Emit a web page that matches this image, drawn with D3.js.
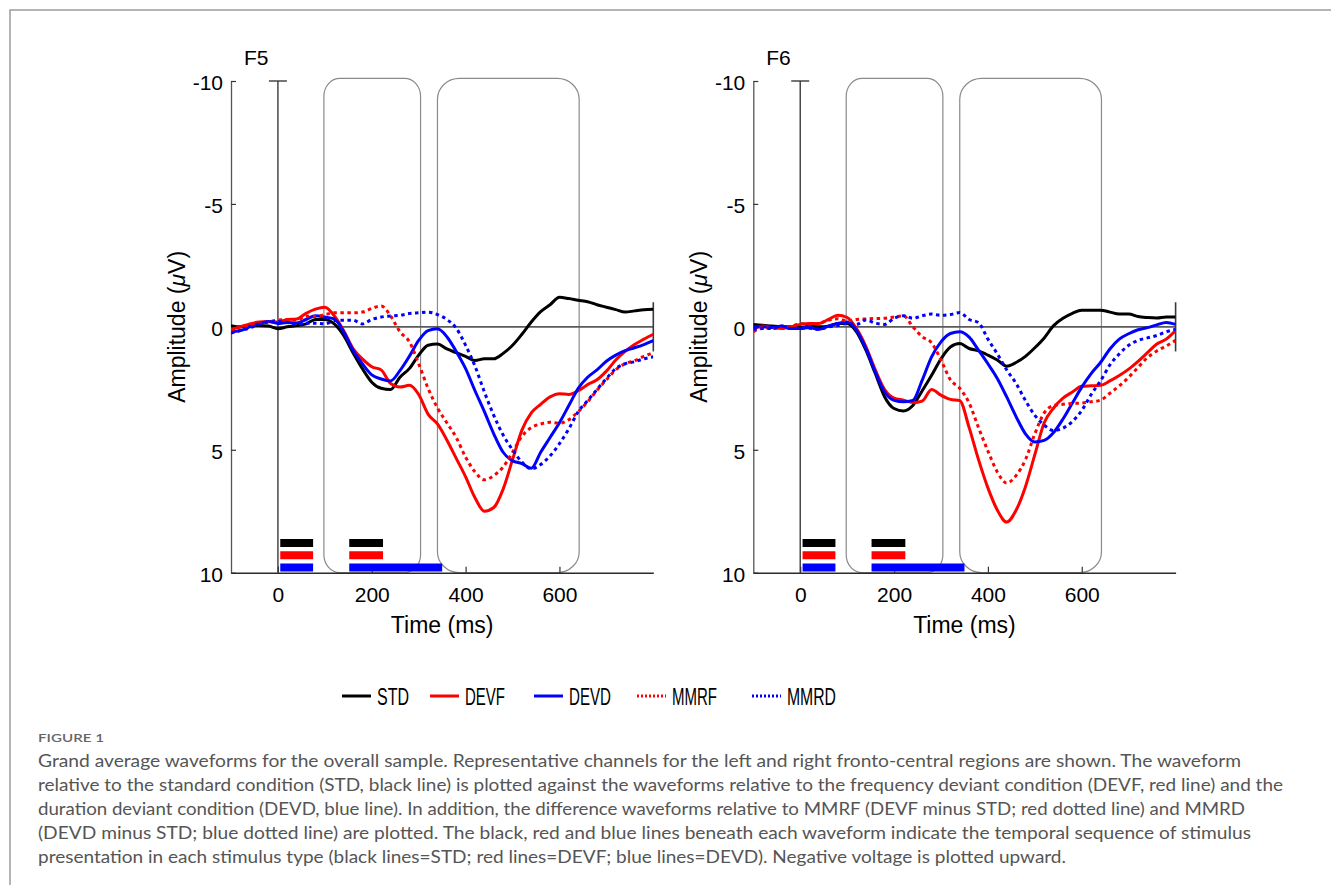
<!DOCTYPE html>
<html>
<head>
<meta charset="utf-8">
<script src="https://cdn.jsdelivr.net/npm/d3@7"></script>
<style>
  body { margin: 0; background: #fff; }
</style>
</head>
<body>
<div id="chart"></div>
<script>
// time base (ms) shared by every waveform
const times = [-100, -80, -60, -40, -20, 0, 20, 40, 60, 80, 100, 120, 140, 160, 180, 200, 220, 240, 260, 280,
  300, 320, 340, 360, 380, 400, 420, 440, 460, 480, 500, 520, 540, 560, 580, 600, 620, 640, 660, 680,
  700, 720, 740, 760, 780, 800]

// F5 (left fronto-central), amplitude in microvolts
const f5Std = [-0.05, 0, -0.05, -0.05, -0.03, 0.08, 0, -0.05, -0.12, -0.3, -0.3, -0.12, 0.35, 1.05, 1.7, 2.25, 2.5, 2.55, 2.05, 1.7,
  1.15, 0.75, 0.7, 0.9, 1.05, 1.2, 1.37, 1.3, 1.3, 1.08, 0.75, 0.3, -0.2, -0.62, -0.9, -1.2, -1.15, -1.08, -1.02, -0.9,
  -0.8, -0.7, -0.6, -0.65, -0.7, -0.72]
const f5Devf = [0.1, 0, -0.12, -0.2, -0.22, -0.2, -0.3, -0.32, -0.55, -0.72, -0.8, -0.45, 0.15, 0.88, 1.3, 1.62, 1.75, 2.3, 2.45, 2.38,
  2.75, 3.55, 3.95, 4.6, 5.35, 6.1, 6.95, 7.5, 7.35, 6.6, 5.4, 4.2, 3.5, 3.15, 2.85, 2.72, 2.75, 2.6, 2.35, 2.15,
  1.8, 1.35, 1.0, 0.72, 0.5, 0.3]
const f5Devd = [0.2, 0.15, 0, -0.14, -0.22, -0.14, -0.18, -0.16, -0.3, -0.45, -0.4, -0.32, 0.2, 0.95, 1.5, 1.95, 2.12, 2.2, 1.78, 1.2,
  0.55, 0.15, 0.08, 0.4, 1.0, 1.7, 2.6, 3.45, 4.35, 5.1, 5.45, 5.56, 5.75, 5.1, 4.5, 3.9, 3.2, 2.5, 2.05, 1.75,
  1.4, 1.15, 0.97, 0.85, 0.72, 0.56]
const f5Mmrf = [0.15, 0, -0.07, -0.15, -0.2, -0.28, -0.3, -0.27, -0.43, -0.42, -0.5, -0.57, -0.57, -0.57, -0.6, -0.75, -0.85, -0.45, 0.2, 0.6,
  1.5, 2.5, 3.3, 3.9, 4.5, 5.3, 5.9, 6.22, 6.05, 5.7, 5.1, 4.45, 4.1, 3.95, 3.88, 3.92, 3.78, 3.45, 3.05, 2.58,
  2.15, 1.75, 1.5, 1.38, 1.2, 1.05]
const f5Mmrd = [0.25, 0.15, 0.05, -0.1, -0.2, -0.22, -0.18, -0.1, -0.15, -0.15, -0.12, -0.25, -0.27, -0.27, -0.12, -0.3, -0.4, -0.44, -0.47, -0.54,
  -0.57, -0.6, -0.5, -0.3, 0.05, 0.75, 1.6, 2.65, 3.6, 4.4, 5.0, 5.5, 5.77, 5.6, 5.25, 4.75, 4.15, 3.45, 3.0, 2.55,
  2.1, 1.7, 1.5, 1.42, 1.3, 1.22]

// F6 (right fronto-central)
const f6Std = [-0.1, -0.07, -0.03, 0, 0, 0.03, -0.03, 0, -0.03, -0.14, -0.14, 0.2, 0.95, 1.9, 2.85, 3.32, 3.42, 3.2, 2.6, 1.97,
  1.3, 0.82, 0.68, 0.88, 0.98, 1.15, 1.35, 1.6, 1.45, 1.2, 0.85, 0.45, -0.05, -0.35, -0.55, -0.68, -0.68, -0.68, -0.6, -0.52,
  -0.52, -0.42, -0.38, -0.36, -0.4, -0.4]
const f6Devf = [0.1, -0.03, 0.03, 0.07, 0, -0.1, -0.14, -0.14, -0.3, -0.47, -0.38, 0.07, 0.8, 1.75, 2.55, 2.9, 2.98, 3.08, 3.02, 2.55,
  2.78, 2.95, 3.0, 4.1, 5.4, 6.55, 7.45, 7.94, 7.46, 6.5, 5.2, 3.9, 3.3, 2.9, 2.65, 2.42, 2.4, 2.38, 2.2, 1.98,
  1.72, 1.4, 1.05, 0.7, 0.5, 0.15]
const f6Devd = [0, 0, 0.03, -0.03, 0.07, 0.07, 0.03, 0.1, -0.03, -0.14, -0.2, 0.14, 0.88, 1.83, 2.65, 2.99, 3.05, 2.99, 2.17, 1.22,
  0.61, 0.27, 0.2, 0.42, 0.95, 1.5, 2.1, 2.85, 3.65, 4.35, 4.68, 4.62, 4.3, 3.75, 3.1, 2.45, 1.9, 1.45, 0.9, 0.5,
  0.28, 0.12, 0.03, -0.08, -0.18, -0.1]
const f6Mmrf = [0.2, 0.04, 0.06, 0.07, 0, -0.13, -0.11, -0.14, -0.27, -0.33, -0.24, -0.3, -0.32, -0.34, -0.35, -0.4, -0.45, 0, 0.4, 0.65,
  1.35, 2.15, 2.5, 3.1, 4.1, 5.05, 5.9, 6.35, 6.05, 5.4, 4.35, 3.5, 3.2, 3.15, 3.12, 3.1, 3.05, 2.98, 2.7, 2.4,
  2.05, 1.65, 1.25, 0.98, 0.78, 0.55]
const f6Mmrd = [0.1, 0.07, 0.06, -0.03, 0.07, 0.04, 0.06, 0.1, 0, -0.05, -0.14, -0.1, -0.28, -0.15, -0.1, -0.35, -0.45, -0.35, -0.45, -0.52,
  -0.47, -0.5, -0.58, -0.3, -0.17, 0.5, 1.1, 1.75, 2.3, 3.0, 3.6, 4.0, 4.22, 4.12, 3.85, 3.4, 2.75, 2.2, 1.55, 1.1,
  0.75, 0.55, 0.45, 0.35, 0.2, 0.1]

const seriesNames = ["STD", "DEVF", "DEVD", "MMRF", "MMRD"]
const channels = ["F5", "F6"]

const yTicks = [-10, -5, 0, 5, 10]
const xTicks = [0, 200, 400, 600]

// analysis windows (ms)
const windowStart = [98, 340]
const windowEnd = [304, 642]

// stimulus sequence bars (ms), one row per condition
const stimRow = ["STD", "STD", "DEVF", "DEVF", "DEVD", "DEVD"]
const stimStart = [5, 152, 5, 152, 5, 152]
const stimEnd = [75, 224, 75, 224, 75, 350]

const caption = [
  "Grand average waveforms for the overall sample. Representative channels for the left and right fronto-central regions are shown. The waveform",
  "relative to the standard condition (STD, black line) is plotted against the waveforms relative to the frequency deviant condition (DEVF, red line) and the",
  "duration deviant condition (DEVD, blue line). In addition, the difference waveforms relative to MMRF (DEVF minus STD; red dotted line) and MMRD",
  "(DEVD minus STD; blue dotted line) are plotted. The black, red and blue lines beneath each waveform indicate the temporal sequence of stimulus",
  "presentation in each stimulus type (black lines=STD; red lines=DEVF; blue lines=DEVD). Negative voltage is plotted upward."
]

const panelData = {
  F5: [f5Std, f5Devf, f5Devd, f5Mmrf, f5Mmrd],
  F6: [f6Std, f6Devf, f6Devd, f6Mmrf, f6Mmrd]
}

// ---- layout / styles
const W = 1331, H = 885
const FONT = "'Liberation Sans', Arial, sans-serif"
const color = d3.scaleOrdinal().domain(seriesNames).range(["#000000", "#ff0000", "#0000ff", "#ff0000", "#0000ff"])
const dotted = d3.scaleOrdinal().domain(seriesNames).range([null, null, null, "3.5,3.5", "3.5,3.5"])
const panelLeft = [231, 753.3]
const panelW = 422.3
const TOP = 81, BOT = 572.7
const boxRx = [16, 22], boxRy = [18, 21]

const svg = d3.select("#chart").append("svg")
  .attr("width", W).attr("height", H)
  .style("font-family", FONT)

svg.append("rect").attr("width", W).attr("height", H).attr("fill", "#fff")

// page frame
svg.append("path").attr("d", `M10,${H}V10H${W}`)
  .attr("fill", "none").attr("stroke", "#9c9c9c").attr("stroke-width", 1.5)

channels.forEach((ch, i) => {
  let left = panelLeft[i]
  let x = d3.scaleLinear().domain([-100, 800]).range([left, left + panelW])
  let y = d3.scaleLinear().domain([-10, 10]).range([TOP, BOT])
  let g = svg.append("g")

  let clipId = "clip" + ch
  svg.append("clipPath").attr("id", clipId)
    .append("rect").attr("x", x(-100)).attr("y", TOP - 5).attr("width", panelW).attr("height", BOT - TOP + 5)

  // analysis windows
  windowStart.forEach((s, k) => {
    g.append("rect")
      .attr("x", x(s)).attr("y", TOP - 2.7)
      .attr("width", x(windowEnd[k]) - x(s)).attr("height", BOT - TOP + 2.7)
      .attr("rx", boxRx[k]).attr("ry", boxRy[k])
      .attr("fill", "none").attr("stroke", "#8a8a8a").attr("stroke-width", 1.2)
  })

  // zero amplitude line
  g.append("line")
    .attr("x1", x(-100)).attr("x2", x(800)).attr("y1", y(0)).attr("y2", y(0))
    .attr("stroke", "#5a5a5a").attr("stroke-width", 1.6)

  // stimulus onset line with cap
  g.append("line")
    .attr("x1", x(0)).attr("x2", x(0)).attr("y1", y(-10)).attr("y2", y(10))
    .attr("stroke", "#3a3a3a").attr("stroke-width", 1.4)
  g.append("line")
    .attr("x1", x(0) - 9).attr("x2", x(0) + 9).attr("y1", y(-10)).attr("y2", y(-10))
    .attr("stroke", "#3a3a3a").attr("stroke-width", 1.4)

  // end marker (+-1 uV)
  g.append("line")
    .attr("x1", x(800)).attr("x2", x(800)).attr("y1", y(-1)).attr("y2", y(1))
    .attr("stroke", "#3a3a3a").attr("stroke-width", 1.6)

  // axes
  let yAxis = g.append("g").attr("transform", `translate(${left},0)`)
    .call(d3.axisLeft(y).tickValues(yTicks).tickSize(-5).tickSizeOuter(0).tickPadding(8).tickFormat(d => String(d)))
  let xAxis = g.append("g").attr("transform", `translate(0,${BOT})`)
    .call(d3.axisBottom(x).tickValues(xTicks).tickSize(-6).tickSizeOuter(0).tickPadding(14).tickFormat(d => String(d)))
  ;[yAxis, xAxis].forEach(a => {
    a.attr("font-family", FONT).attr("font-size", 21)
    a.selectAll("text").attr("fill", "#000")
    a.selectAll("line").attr("stroke", "#333").attr("stroke-width", 1.2)
  })
  yAxis.select(".domain").attr("stroke", "#555").attr("stroke-width", 1.3)
  xAxis.select(".domain").attr("stroke", "#2a2a2a").attr("stroke-width", 1.6)
  yAxis.selectAll("text").attr("dy", "0.42em")

  // waveforms
  let line = d3.line()
    .x((d, k) => x(times[k]))
    .y(d => y(d))
    .curve(d3.curveMonotoneX)
  let lines = g.append("g").attr("clip-path", `url(#${clipId})`)
  panelData[ch].forEach((vals, k) => {
    let name = seriesNames[k]
    lines.append("path")
      .attr("d", line(vals))
      .attr("fill", "none")
      .attr("stroke", color(name))
      .attr("stroke-width", 3)
      .attr("stroke-linejoin", "round")
      .attr("stroke-dasharray", dotted(name))
  })

  // stimulus sequence bars
  let rowY = d3.scalePoint().domain(["STD", "DEVF", "DEVD"]).range([543, 567.5])
  stimRow.forEach((r, k) => {
    g.append("rect")
      .attr("x", x(stimStart[k])).attr("width", x(stimEnd[k]) - x(stimStart[k]))
      .attr("y", rowY(r) - 4).attr("height", 8)
      .attr("fill", color(r))
  })

  // titles
  g.append("text").attr("x", left + 13).attr("y", 65)
    .attr("font-size", 21).text(ch)
  g.append("text")
    .attr("x", (x(-100) + x(800)) / 2).attr("y", 633)
    .attr("text-anchor", "middle").attr("font-size", 23)
    .text("Time (ms)")
  let yl = g.append("text")
    .attr("transform", `translate(${left - 46},${(TOP + BOT) / 2}) rotate(-90)`)
    .attr("text-anchor", "middle").attr("font-size", 23)
  yl.append("tspan").text("Amplitude (")
  yl.append("tspan").attr("font-style", "italic").text("\u03bc")
  yl.append("tspan").text("V)")
})

// legend
const legendX = [342, 430, 534, 637, 752]
const legendTextW = [32, 40, 42, 45, 49]
const legend = svg.append("g").attr("transform", "translate(0,696)")
seriesNames.forEach((name, k) => {
  legend.append("line")
    .attr("x1", legendX[k]).attr("x2", legendX[k] + 29)
    .attr("stroke", color(name)).attr("stroke-width", 3)
    .attr("stroke-dasharray", dotted(name) ? "2,2" : null)
  legend.append("text")
    .attr("x", legendX[k] + 35).attr("y", 8.5)
    .attr("font-size", 24)
    .attr("textLength", legendTextW[k]).attr("lengthAdjust", "spacingAndGlyphs")
    .text(name)
})

// caption
svg.append("text").attr("x", 38).attr("y", 742)
  .attr("font-family", "Lato, 'Open Sans', sans-serif").attr("font-size", 12)
  .attr("font-weight", 600).attr("fill", "#666")
  .attr("textLength", 66).attr("lengthAdjust", "spacingAndGlyphs")
  .text("FIGURE 1")
const captionW = [1203, 1245, 1207, 1213, 1028]
caption.forEach((t, k) => {
  svg.append("text")
    .attr("x", 38).attr("y", 767 + k * 24)
    .attr("font-family", "Lato, 'Open Sans', sans-serif").attr("font-size", 17)
    .attr("fill", "#555")
    .attr("textLength", captionW[k]).attr("lengthAdjust", "spacingAndGlyphs")
    .text(t)
})
</script>
</body>
</html>
